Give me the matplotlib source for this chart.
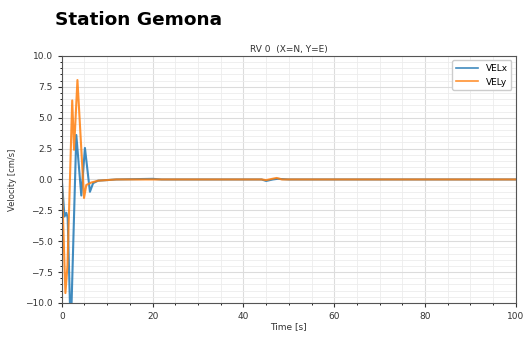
import matplotlib.pyplot as plt
from matplotlib.ticker import MultipleLocator

# velocity records at station Gemona, RV 0
t_x = [0, 0.6, 1.0, 1.3, 1.85, 2.1, 3.2, 4.3, 5.1, 6.2, 6.9, 8, 12, 20, 22, 30, 44, 45, 46.5, 47.5, 50, 100]
vel_x = [0, -3.0, -2.7, -3.1, -10.8, -10.8, 3.6, -1.3, 2.55, -1.0, -0.3, -0.1, 0, 0.05, 0, 0, 0, -0.12, 0, 0.05, 0, 0]

t_y = [0, 0.8, 1.25, 2.3, 2.7, 3.45, 4.9, 5.4, 6.5, 8, 12, 44, 45, 47.3, 48.5, 100]
vel_y = [0, -9.2, -7.0, 6.4, 2.4, 8.05, -1.5, -0.45, -0.25, -0.1, 0, 0, -0.05, 0.12, 0, 0]

fig = plt.figure(figsize=(5.28, 3.37), dpi=100)
fig.text(0.104, 0.925, "Station Gemona", fontsize=13.3, fontweight="bold")

ax = fig.add_axes([0.117, 0.101, 0.86, 0.733])
ax.plot(t_x, vel_x, color="#1f77b4", lw=1.5, alpha=0.85, label="VELx")
ax.plot(t_y, vel_y, color="#ff7f0e", lw=1.5, alpha=0.85, label="VELy")

ax.set_xlim(0, 100)
ax.set_ylim(-10, 10)
ax.xaxis.set_major_locator(MultipleLocator(20))
ax.xaxis.set_minor_locator(MultipleLocator(5))
ax.yaxis.set_major_locator(MultipleLocator(2.5))
ax.yaxis.set_minor_locator(MultipleLocator(0.5))
ax.grid(which="major", color="#dcdcdc", lw=0.8)
ax.grid(which="minor", color="#ececec", lw=0.6)
ax.set_axisbelow(True)
ax.tick_params(labelsize=6.5, colors="#333333", length=3)
ax.tick_params(which="minor", length=1.5)
for s in ax.spines.values():
    s.set_color("#555555")

ax.set_title("RV 0  (X=N, Y=E)", fontsize=6.5, color="#333333", pad=3)
ax.set_xlabel("Time [s]", fontsize=6.5, color="#333333", labelpad=1)
ax.set_ylabel("Velocity [cm/s]", fontsize=6, color="#333333", labelpad=6)
leg = ax.legend(loc="upper right", fontsize=6.5, handlelength=2.5, framealpha=1,
                edgecolor="#cccccc", borderpad=0.4)
for line in leg.get_lines():
    line.set_linewidth(1.2)

fig.savefig("out.png", dpi=100)
